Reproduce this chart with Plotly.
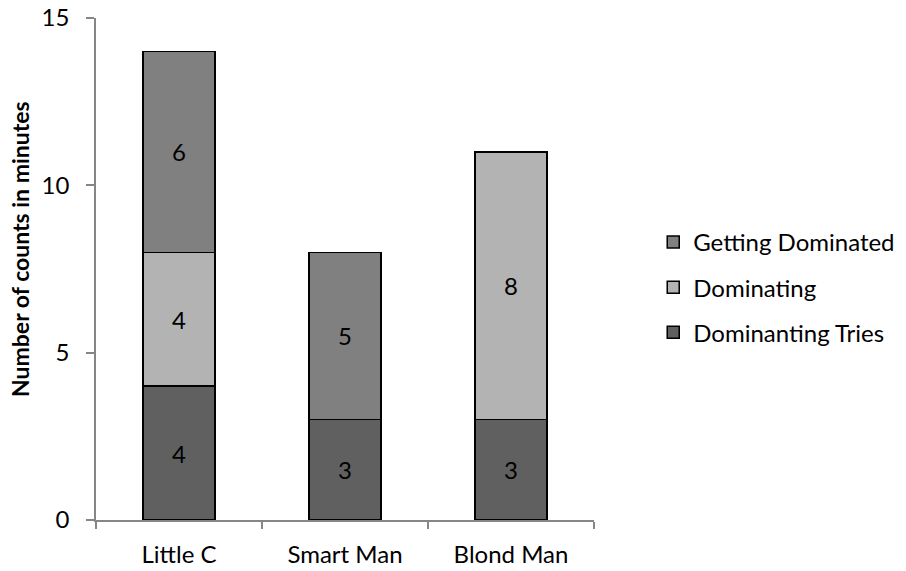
import plotly.graph_objects as go

categories = ["Little C", "Smart Man", "Blond Man"]
tries = [4, 3, 3]
dominating = [4, 0, 8]
getting_dominated = [6, 5, 0]
y_ticks = [0, 5, 10, 15]

series = [
    ("Dominanting Tries", tries, "#606060", 3),
    ("Dominating", dominating, "#b3b3b3", 2),
    ("Getting Dominated", getting_dominated, "#808080", 1),
]

font = "Lato, 'Open Sans', sans-serif"
fig = go.Figure()
for name, vals, col, rank in series:
    fig.add_trace(go.Bar(
        x=categories, y=vals, name=name,
        marker=dict(color=col, line=dict(color="black", width=1.5)),
        text=[str(v) if v else "" for v in vals],
        textposition="inside", insidetextanchor="middle",
        textfont=dict(color="black", size=24, family=font),
        legendgroup=name, legendrank=rank,
        hoverinfo="skip",
    ))

fig.update_layout(
    barmode="stack", bargap=0.567,
    width=906, height=571,
    margin=dict(l=96, r=312, t=18, b=51),
    plot_bgcolor="white", paper_bgcolor="white",
    font=dict(family=font, size=24, color="black"),
    showlegend=True,
    legend=dict(xref="container", yref="container", x=0.721, y=0.615,
                xanchor="left", yanchor="top",
                traceorder="grouped", tracegroupgap=11,
                font=dict(size=24, family=font)),
    uniformtext=dict(mode="show", minsize=10),
    annotations=[dict(
        text="<b>Number of counts in minutes</b>", textangle=-90,
        xref="paper", yref="paper", x=-0.1526, y=0.54,
        xanchor="center", yanchor="middle", showarrow=False,
        font=dict(size=23, family=font, color="black"),
    )],
)
fig.update_xaxes(showline=True, linecolor="#868686", linewidth=1.5,
                 ticks="outside", tickson="boundaries", ticklen=7,
                 tickcolor="#868686", tickwidth=1.5, showgrid=False,
                 ticklabelstandoff=12, automargin=False,
                 tickfont=dict(size=24))
fig.update_yaxes(range=[0, 15], tickvals=y_ticks,
                 showline=True, linecolor="#868686", linewidth=1.5,
                 ticks="outside", ticklen=8, tickcolor="#868686", tickwidth=1.5,
                 showgrid=False, zeroline=False, ticklabelstandoff=12,
                 automargin=False,
                 tickfont=dict(size=24))
fig.write_html("out.html", config={"displayModeBar": False},
               post_script="document.body.style.margin='0';")
